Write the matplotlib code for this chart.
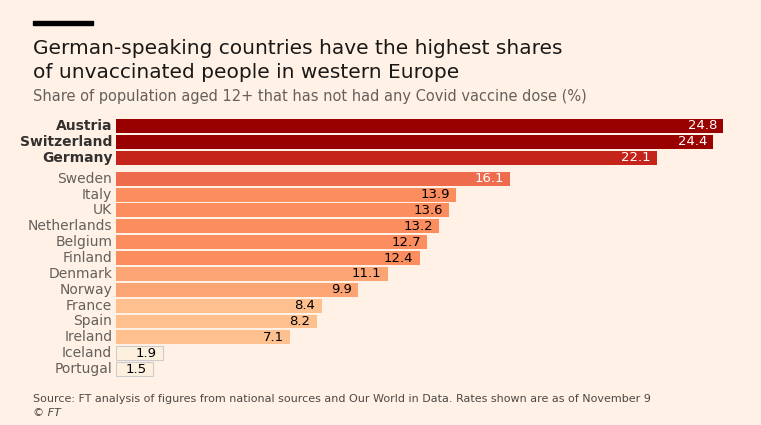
import matplotlib.pyplot as plt
import numpy as np

countries = ["Austria", "Switzerland", "Germany", "Sweden", "Italy", "UK", "Netherlands",
             "Belgium", "Finland", "Denmark", "Norway", "France", "Spain", "Ireland",
             "Iceland", "Portugal"]
values = [24.8, 24.4, 22.1, 16.1, 13.9, 13.6, 13.2, 12.7, 12.4, 11.1, 9.9, 8.4, 8.2, 7.1, 1.9, 1.5]
colors = ["#990000", "#990000", "#c4241a", "#ee6c4d", "#fb8d5e", "#fb8d5e", "#fb8d5e",
          "#fb8d5e", "#fb8d5e", "#fca474", "#fca474", "#fdc08e", "#fdc08e", "#fdc08e",
          "#fdf0df", "#fdf0df"]

BG = "#fff1e5"
W, H = 761, 425
fig = plt.figure(figsize=(W / 100, H / 100), dpi=100, facecolor=BG)

# axes in pixel layout: x 116..723 maps 0..24.8
x0, x1 = 116, 723
top, bot = 118, 377
ax = fig.add_axes([x0 / W, 1 - bot / H, (x1 - x0) / W, (bot - top) / H])
ax.set_facecolor(BG)

ypos = np.array([i + (0.33 if i >= 3 else 0) for i in range(len(countries))])
for i, (c, v, col) in enumerate(zip(countries, values, colors)):
    edge = "#cccccc" if v < 3 else "none"
    ax.barh(ypos[i], v, height=0.88, color=col, edgecolor=edge, linewidth=0.8)
    tc = "white" if i < 4 else "black"
    ax.text(v - 0.25, ypos[i], f"{v:.1f}", ha="right", va="center", color=tc, fontsize=9.5)
    ax.text(-0.15, ypos[i], c, ha="right", va="center", fontsize=10,
            color="#33302e" if i < 3 else "#66605c", fontweight="bold" if i < 3 else "normal")

ax.set_xlim(0, 24.8)
ax.set_ylim(ypos[-1] + 0.5, -0.5)
ax.axis("off")

fig.add_artist(plt.Rectangle((33 / W, 1 - 25 / H), 60 / W, 4 / H, color="black",
                             transform=fig.transFigure))
fig.text(33 / W, 1 - 48 / H, "German-speaking countries have the highest shares",
         fontsize=14.5, color="#1a1817", va="center")
fig.text(33 / W, 1 - 72 / H, "of unvaccinated people in western Europe",
         fontsize=14.5, color="#1a1817", va="center")
fig.text(33 / W, 1 - 97 / H, "Share of population aged 12+ that has not had any Covid vaccine dose (%)",
         fontsize=10.5, color="#66605c", va="center")
fig.text(33 / W, 1 - 399 / H,
         "Source: FT analysis of figures from national sources and Our World in Data. Rates shown are as of November 9",
         fontsize=8, color="#4d4845", va="center")
fig.text(33 / W, 1 - 413 / H, "© FT", fontsize=8, color="#4d4845", va="center", style="italic")

fig.savefig("out.png", dpi=100, facecolor=BG)
